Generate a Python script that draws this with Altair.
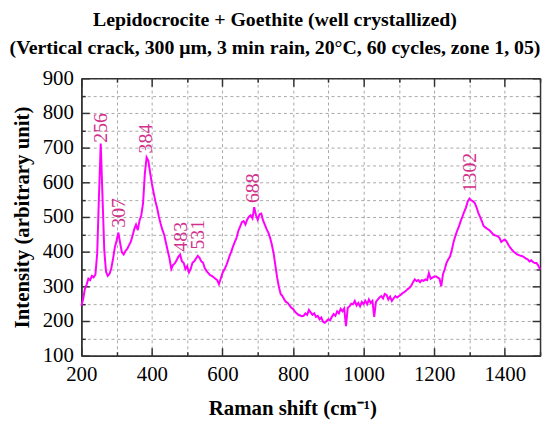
import altair as alt
import pandas as pd

# ---- data ----
raman_shift = list(range(200, 1501, 5))
intensity = [
    244, 262, 292, 305, 322, 318, 330, 326, 334, 395,   # 200-245
    560, 712, 560, 405, 342, 330, 336, 352, 380, 412,   # 250-295
    432, 455, 425, 398, 392, 402, 408, 418, 428, 445,   # 300-345
    465, 478, 462, 490, 505, 540, 625, 672, 662, 628,   # 350-395
    596, 570, 545, 525, 500, 480, 462, 448, 425, 402,   # 400-445
    380, 350, 362, 366, 375, 385, 392, 372, 368, 350,   # 450-495
    358, 340, 350, 368, 372, 380, 388, 382, 372, 368,   # 500-545
    352, 344, 338, 332, 330, 326, 322, 318, 306, 322,   # 550-595
    338, 348, 358, 372, 387, 400, 415, 428, 440, 460,   # 600-645
    472, 485, 488, 478, 492, 501, 505, 496, 528, 505,   # 650-695
    492, 508, 510, 490, 478, 465, 455, 440, 420, 395,   # 700-745
    360, 325, 298, 278, 272, 262, 255, 252, 245, 238,   # 750-795
    235, 228, 222, 218, 216, 214, 215, 222, 218, 232,   # 800-845
    225, 218, 222, 212, 215, 205, 210, 198, 195, 200,   # 850-895
    205, 202, 212, 220, 215, 228, 222, 235, 228, 236,   # 900-945
    185, 238, 242, 250, 248, 258, 245, 252, 242, 255,   # 950-995
    249, 258, 248, 262, 252, 258, 212, 255, 262, 268,   # 1000-1045
    272, 265, 278, 275, 262, 270, 258, 265, 272, 268,   # 1050-1095
    272, 275, 280, 283, 287, 292, 296, 302, 312, 320,   # 1100-1145
    315, 318, 312, 318, 316, 320, 318, 338, 322, 325,   # 1150-1195
    328, 329, 325, 322, 300, 335, 350, 368, 378, 386,   # 1200-1245
    405, 428, 445, 460, 472, 488, 501, 515, 527, 545,   # 1250-1295
    553, 548, 545, 540, 528, 512, 500, 488, 474, 470,   # 1300-1345
    466, 463, 458, 452, 448, 446, 444, 440, 428, 432,   # 1350-1395
    435, 430, 420, 412, 406, 400, 396, 392, 390, 388,   # 1400-1445
    387, 384, 380, 378, 372, 375, 370, 367, 367, 360,   # 1450-1495
    349,                                                # 1500
]

peak_shift = [256, 307, 384, 483, 531, 688, 1302]
peak_text = ["256", "307", "384", "483", "531", "688", "1302"]
peak_label_base = [714, 469, 683, 400, 406, 540, 571]

x_values = list(range(200, 1501, 100))
y_values = list(range(100, 901, 50))

title_lines = [
    "Lepidocrocite + Goethite (well crystallized)",
    "(Vertical crack, 300 μm, 3 min rain, 20°C, 60 cycles, zone 1, 05)",
]

spec_df = pd.DataFrame({"shift": raman_shift, "intensity": intensity})
peak_df = pd.DataFrame({"shift": peak_shift, "label": peak_text, "base": peak_label_base})

W, H = 463, 280
FONT = "Liberation Serif"
FRAME = "#333333"
LINE = "#ff00ff"
LABEL = "#d2308c"

xs = alt.Scale(domain=[200, 1500], nice=False, zero=False)
ys = alt.Scale(domain=[100, 900], nice=False, zero=False)

main_x_axis = alt.Axis(
    orient="bottom", values=x_values, format="d",
    labelExpr="datum.value % 200 === 0 ? datum.label : ''",
    labelFont=FONT, labelFontSize=21, labelColor="black", labelPadding=8,
    labelFlush=False, labelOverlap=False,
    ticks=False, grid=True, gridColor="#a8a8a8", gridDash=[3, 3], gridWidth=1,
    domain=True, domainColor=FRAME, domainWidth=1.5,
    title="Raman shift (cm⁻¹)", titleFont=FONT, titleFontSize=21,
    titleFontWeight="bold", titleColor="black", titlePadding=13, titleX=213,
)
main_y_axis = alt.Axis(
    orient="left", values=y_values, format="d",
    labelExpr="datum.value % 100 === 0 ? datum.label : ''",
    labelFont=FONT, labelFontSize=21, labelColor="black", labelPadding=8,
    labelFlush=False, labelOverlap=False,
    ticks=False, grid=True, gridColor="#a8a8a8", gridDash=[3, 3], gridWidth=1,
    domain=True, domainColor=FRAME, domainWidth=1.5,
    title="Intensity (arbitrary unit)", titleFont=FONT, titleFontSize=21,
    titleFontWeight="bold", titleColor="black", titlePadding=10,
)


def tick_axis(orient, offset, values, major_step):
    return alt.Axis(
        orient=orient, offset=offset, values=values, labels=False, grid=False,
        ticks=True, tickColor=FRAME, tickWidth=1.5,
        tickSize={"condition": {"test": f"datum.value % {major_step} === 0", "value": 8}, "value": 4},
        domain=True, domainColor=FRAME, domainWidth=1.5, title=None,
    )


frame_a = alt.Chart(spec_df).mark_line(opacity=0).encode(
    x=alt.X("shift:Q", scale=xs, axis=tick_axis("top", -H, x_values, 200)),
    y=alt.Y("intensity:Q", scale=ys, axis=tick_axis("right", -W, y_values, 100)),
)
frame_b = alt.Chart(spec_df).mark_line(opacity=0).encode(
    x=alt.X("shift:Q", scale=xs, axis=tick_axis("bottom", -H, x_values, 200)),
    y=alt.Y("intensity:Q", scale=ys, axis=tick_axis("left", -W, y_values, 100)),
)
line = alt.Chart(spec_df).mark_line(color=LINE, strokeWidth=2).encode(
    x=alt.X("shift:Q", scale=xs, axis=main_x_axis),
    y=alt.Y("intensity:Q", scale=ys, axis=main_y_axis),
)
labels = alt.Chart(peak_df).mark_text(
    angle=270, align="left", baseline="middle", font=FONT, fontSize=20, color=LABEL
).encode(
    x=alt.X("shift:Q", scale=xs, axis=None),
    y=alt.Y("base:Q", scale=ys, axis=None),
    text="label:N",
)

chart = (
    alt.layer(line, frame_a, frame_b, labels)
    .resolve_axis(x="independent", y="independent")
    .properties(
        width=W, height=H,
        title=alt.TitleParams(
            text=title_lines, anchor="middle", frame="group", dx=-36,
            font=FONT, fontSize=20, fontWeight="bold", color="black",
            lineHeight=29, offset=9,
        ),
        padding={"left": 74, "top": 69, "right": 5, "bottom": 64},
        autosize=alt.AutoSizeParams(type="none"),
    )
    .configure_view(stroke=None)
)

chart.save("out.html", embed_options={"renderer": "svg", "actions": False})
